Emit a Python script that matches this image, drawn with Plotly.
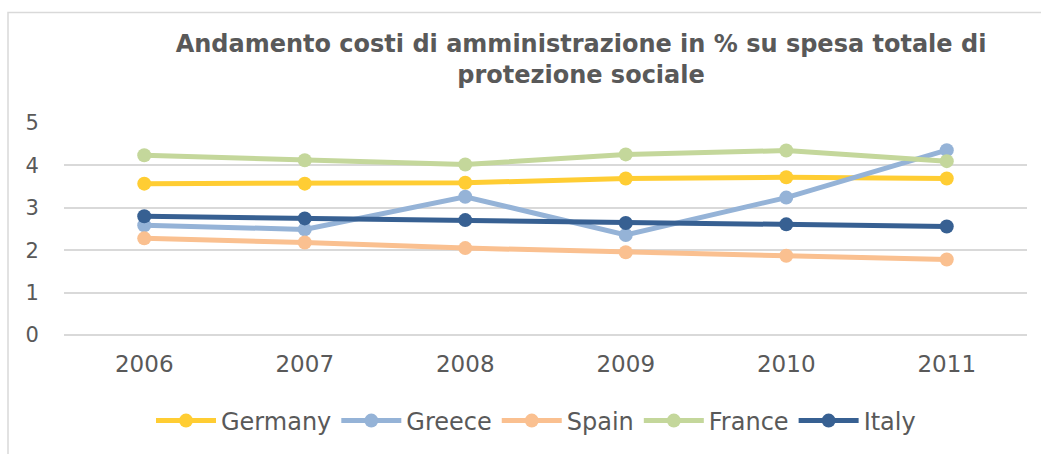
import plotly.graph_objects as go

years = ["2006", "2007", "2008", "2009", "2010", "2011"]
germany = [3.57, 3.57, 3.59, 3.69, 3.72, 3.69]
greece = [2.59, 2.49, 3.26, 2.36, 3.24, 4.36]
spain = [2.28, 2.18, 2.05, 1.95, 1.87, 1.78]
france = [4.24, 4.12, 4.02, 4.26, 4.35, 4.10]
italy = [2.80, 2.75, 2.71, 2.64, 2.61, 2.56]

series = [
    ("Germany", germany, "#FFCD33"),
    ("Greece", greece, "#95B3D7"),
    ("Spain", spain, "#FAC090"),
    ("France", france, "#C4D79B"),
    ("Italy", italy, "#376092"),
]

fig = go.Figure()
for name, vals, col in series:
    fig.add_trace(go.Scatter(
        x=years, y=vals, name=name, mode="lines+markers",
        line=dict(color=col, width=5),
        marker=dict(color=col, size=14),
    ))

W, H = 1041, 454
ml, mr, mt, mb = 64, 14, 123, 118
pw = W - ml - mr
ph = H - mt - mb

def px2x(px):
    return (px - ml) / pw

def py2y(py):
    return (H - mb - py) / ph

fig.update_layout(
    width=W, height=H,
    margin=dict(l=ml, r=mr, t=mt, b=mb),
    paper_bgcolor="white", plot_bgcolor="white",
    font=dict(family="DejaVu Sans", color="#595959"),
    title=dict(
        text="Andamento costi di amministrazione in % su spesa totale di<br>protezione sociale",
        x=581 / W, xanchor="center", xref="container",
        y=1 - 52 / H, yanchor="middle", yref="container",
        font=dict(family="DejaVu Sans", size=24, color="#595959", weight="bold"),
    ),
    xaxis=dict(
        type="category", range=[-0.5, 5.5], showgrid=False, zeroline=False,
        showline=False, tickfont=dict(size=23, color="#595959"),
        ticks="outside", ticklen=8, tickcolor="rgba(0,0,0,0)",
    ),
    yaxis=dict(
        range=[0, 5], dtick=1, showgrid=True, gridcolor="#D9D9D9", gridwidth=1.5,
        zeroline=True, zerolinecolor="#D9D9D9", zerolinewidth=1.5,
        showline=False, tickfont=dict(size=21, color="#595959"),
        ticks="outside", ticklen=20, tickcolor="rgba(0,0,0,0)",
    ),
    legend=dict(
        orientation="h", x=px2x(536), xanchor="center", y=py2y(421), yanchor="middle",
        font=dict(size=24, color="#595959"), itemwidth=60,
    ),
    showlegend=True,
    shapes=[dict(
        type="rect", xref="paper", yref="paper",
        x0=px2x(8), x1=px2x(1060), y0=py2y(470), y1=py2y(12),
        line=dict(color="#D9D9D9", width=1.5), fillcolor="rgba(0,0,0,0)", layer="below",
    )],
)

fig.write_html("out.html")
